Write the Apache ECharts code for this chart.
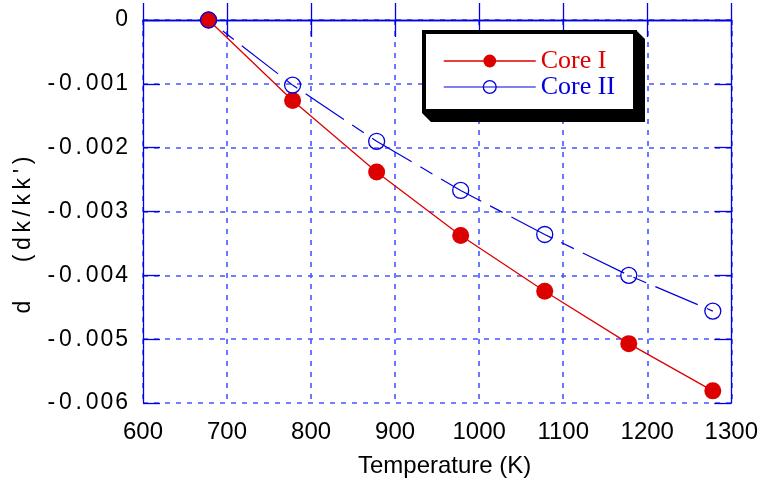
<!DOCTYPE html>
<html lang="en">
<head>
    <meta charset="UTF-8">
    <title>Reactivity vs Temperature</title>
    <script src="https://cdn.jsdelivr.net/npm/echarts/dist/echarts.min.js"></script>
    <style>
        html, body { margin: 0; padding: 0; background: #fff; }
        #main { width: 761px; height: 483px; }
    </style>
</head>
<body>
    <div id="main"></div>

    <script>
        // values
        var temperatures = [678, 778, 878, 978, 1078, 1178, 1278];
        var coreOne = [0, -0.00126, -0.00238, -0.003375, -0.00425, -0.00507, -0.00581];
        var coreTwo = [0, -0.00102, -0.0019, -0.00267, -0.00336, -0.004, -0.00456];
        var seriesNames = ['Core I', 'Core II'];

        var frameBlue = '#0000e6';
        var gridBlue = '#4656ff';
        var red = '#dd0000';
        var blue = '#0000dd';

        function pairs(xs, ys) {
            return xs.map(function (x, i) { return [x, ys[i]]; });
        }

        // the original labels are loosely spaced: "-0 . 001"
        function yLabel(v) {
            if (Math.abs(v) < 1e-9) return '0';
            var s = v.toFixed(3).split('').join('\u200A');
            return s.replace('-', '-\u200A').replace('.', '\u200A.\u200A');
        }

        var chart = echarts.init(document.getElementById('main'));

        var frameAxisLine = { show: true, lineStyle: { color: frameBlue, width: 1.3 } };
        var innerTicks = { show: true, inside: true, length: 17, lineStyle: { color: frameBlue, width: 1.3 } };
        var dashedGrid = { show: true, lineStyle: { color: gridBlue, width: 1.6, type: [5, 6] } };

        var option = {
            animation: false,
            grid: { left: 143, right: 26, top: 20, bottom: 79, show: false },
            textStyle: { fontFamily: 'Liberation Sans' },
            // legend frame with its hard black drop shadow
            graphic: [{
                type: 'polygon',
                z: 5,
                silent: true,
                shape: { points: [[636, 30], [645, 39], [645, 122], [431, 122], [422, 113], [636, 113]] },
                style: { fill: '#000' }
            }, {
                type: 'rect',
                z: 6,
                silent: true,
                shape: { x: 424, y: 32, width: 211, height: 79 },
                style: { fill: '#fff', stroke: '#000', lineWidth: 4 }
            }],
            legend: {
                orient: 'vertical',
                left: 443,
                top: 48,
                z: 10,
                padding: 0,
                itemGap: 0,
                itemWidth: 92,
                itemHeight: 16,
                textStyle: { fontFamily: 'Liberation Serif', fontSize: 26, lineHeight: 23 },
                data: [
                    { name: seriesNames[0], textStyle: { color: red },
                      lineStyle: { type: 'solid', width: 1.5 } },
                    { name: seriesNames[1], textStyle: { color: blue },
                      lineStyle: { type: 'solid', width: 1.2 },
                      itemStyle: { color: 'rgba(0,0,0,0)', borderColor: blue, borderWidth: 1.3 } }
                ]
            },
            xAxis: [{
                type: 'value',
                position: 'bottom',
                min: 600, max: 1300, interval: 100,
                axisLine: frameAxisLine,
                axisTick: innerTicks,
                axisLabel: { fontSize: 24, color: '#000', margin: 17, formatter: function (v) { return String(v); } },
                splitLine: dashedGrid,
                name: 'Temperature (K)',
                nameLocation: 'middle',
                nameGap: 51,
                nameTextStyle: { fontSize: 24, color: '#000', padding: [0, 0, 0, 15] }
            }, {
                type: 'value',
                position: 'top',
                min: 600, max: 1300, interval: 100,
                axisLine: frameAxisLine,
                axisTick: innerTicks,
                axisLabel: { show: false },
                splitLine: { show: false }
            }],
            yAxis: [{
                type: 'value',
                position: 'left',
                min: -0.006, max: 0, interval: 0.001,
                axisLine: frameAxisLine,
                axisTick: innerTicks,
                axisLabel: { fontSize: 23, color: '#000', margin: 15, formatter: yLabel },
                splitLine: dashedGrid,
                name: 'd      (\u2009d\u2009k\u2009/\u2009k\u2009k\u2009\'\u2009)',
                nameLocation: 'middle',
                nameRotate: 90,
                nameGap: 108,
                nameTextStyle: { fontSize: 23, color: '#000', padding: [0, 47, 0, 0] }
            }, {
                type: 'value',
                position: 'right',
                min: -0.006, max: 0, interval: 0.001,
                axisLine: frameAxisLine,
                axisTick: innerTicks,
                axisLabel: { show: false },
                splitLine: { show: false }
            }],
            series: [{
                name: seriesNames[0],
                type: 'line',
                xAxisIndex: 0,
                yAxisIndex: 0,
                data: pairs(temperatures, coreOne),
                symbol: 'circle',
                symbolSize: 17,
                lineStyle: { color: red, width: 1.3 },
                itemStyle: { color: red }
            }, {
                name: seriesNames[1],
                type: 'line',
                xAxisIndex: 0,
                yAxisIndex: 0,
                data: pairs(temperatures, coreTwo),
                symbol: 'circle',
                symbolSize: 16,
                lineStyle: { color: blue, width: 1.2, type: [14, 10, 46, 10], dashOffset: -18 },
                itemStyle: { color: 'rgba(0,0,0,0)', borderColor: blue, borderWidth: 1.3 }
            }]
        };

        chart.setOption(option);
    </script>
</body>
</html>
